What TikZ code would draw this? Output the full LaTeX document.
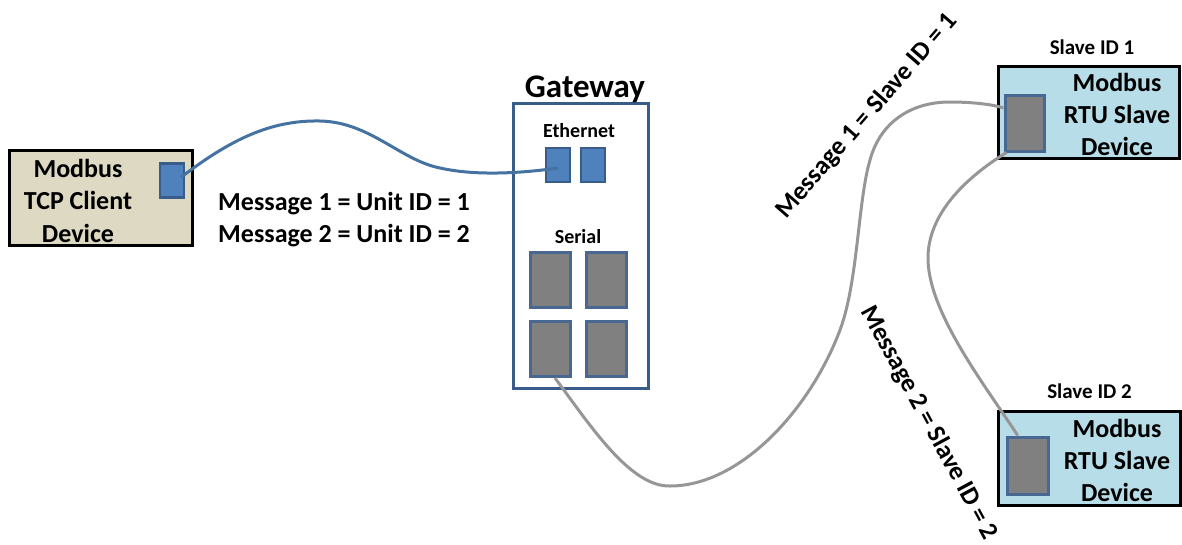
\documentclass[tikz,border=0pt]{standalone}
\usepackage{fontspec}
\setmainfont{Carlito}
\definecolor{clientfill}{RGB}{221,217,195}
\definecolor{slavefill}{RGB}{183,221,232}
\definecolor{portblue}{RGB}{79,129,189}
\definecolor{portedge}{RGB}{56,93,138}
\definecolor{serialedge}{RGB}{72,104,146}
\definecolor{portgray}{RGB}{128,128,128}
\definecolor{cableblue}{RGB}{68,114,161}
\definecolor{cablegray}{RGB}{150,150,150}

\begin{document}
\begin{tikzpicture}[x=1pt,y=-1pt,
	devbox/.style={draw=black, line width=3pt, inner sep=0pt},
	ethport/.style={draw=portedge, fill=portblue, line width=2.5pt, inner sep=0pt, minimum width=24pt, minimum height=34pt},
	serport/.style={draw=serialedge, fill=portgray, line width=3pt, inner sep=0pt},
	bigtext/.style={font=\fontsize{26}{32.5}\selectfont\bfseries, align=center, inner sep=0pt},
	smalltext/.style={font=\fontsize{20}{24}\selectfont\bfseries, inner sep=0pt},
	bluecable/.style={draw=cableblue, line width=3pt},
	graycable/.style={draw=cablegray, line width=3pt}]
	
	\useasboundingbox (0,0) rectangle (1182,544);
	
	\node[devbox, fill=clientfill, minimum width=182.6pt, minimum height=95pt] (client) at (101,198.2){};
	\node[bigtext, anchor=base] (clienttext) at (78,242.3){Modbus\\TCP Client\\Device};
	\node[ethport] (cport) at (172,180.3){};
	\node[bigtext, align=left, anchor=base west] (unitids) at (218,242.7){Message 1 = Unit ID = 1\\Message 2 = Unit ID = 2};
	
	\node[draw=portedge, line width=3pt, inner sep=0pt, minimum width=135.4pt, minimum height=285pt] (gateway) at (581,245.8){};
	\node[font=\fontsize{33}{40}\selectfont\bfseries, inner sep=0pt, anchor=base] (gwtext) at (585,97.5){Gateway};
	\node[smalltext, anchor=base] (ethtext) at (579,137){Ethernet};
	\node[ethport] (eth1) at (558,165){};
	\node[ethport] (eth2) at (593,165){};
	\node[smalltext, anchor=base] (sertext) at (578,243){Serial};
	\node[serport, minimum width=40pt, minimum height=55pt] (ser1) at (550,279.5){};
	\node[serport, minimum width=40pt, minimum height=55pt] (ser2) at (606.5,279.5){};
	\node[serport, minimum width=40pt, minimum height=55pt] (ser3) at (550,349){};
	\node[serport, minimum width=40pt, minimum height=55pt] (ser4) at (606.5,349){};
	
	\node[devbox, fill=slavefill, minimum width=180.6pt, minimum height=92.3pt] (slave1) at (1089,112.2){};
	\node[font=\fontsize{21}{25}\selectfont\bfseries, inner sep=0pt, anchor=base] (s1id) at (1092,54.3){Slave ID 1};
	\node[bigtext, anchor=base, font=\fontsize{26}{31.7}\selectfont\bfseries] (s1text) at (1117,155){Modbus\\RTU Slave\\Device};
	\node[serport, minimum width=39pt, minimum height=56pt] (s1port) at (1024.5,123){};
	
	\node[devbox, fill=slavefill, minimum width=181.7pt, minimum height=94pt] (slave2) at (1089.2,458){};
	\node[font=\fontsize{21}{25}\selectfont\bfseries, inner sep=0pt, anchor=base] (s2id) at (1089.5,398){Slave ID 2};
	\node[bigtext, anchor=base, font=\fontsize{26}{32}\selectfont\bfseries] (s2text) at (1117,501.7){Modbus\\RTU Slave\\Device};
	\node[serport, minimum width=41pt, minimum height=57pt] (s2port) at (1027.7,465.5){};
	
	\node[bigtext, rotate=49] (msgone) at (867,116){Message 1 = Slave ID = 1};
	\node[bigtext, rotate=-61.6] (msgtwo) at (929,423){Message 2 = Slave ID = 2};
	
	\draw[bluecable]([xshift=9pt,yshift=3pt]cport.center) .. controls (230,140) and (270,120) .. (320,121) .. controls (370,122) and (400,160) .. (440,168) .. controls (480,177) and (530,172) .. ([yshift=-3pt]eth1.center);
	\draw[graycable]([xshift=5pt]ser3.south) .. controls (590,425) and (630,487) .. (670,486) .. controls (740,486) and (810,410) .. (840,330) .. controls (858,282) and (858,200) .. (870,160) .. controls (880,123) and (910,102) .. (950,102) .. controls (975,102) and (995,105) .. ([yshift=15pt]s1port.west);
	\draw[graycable]([xshift=3pt]s1port.south west) .. controls (970,175) and (930,210) .. (928,255) .. controls (926,310) and (985,385) .. ([xshift=-10pt]s2port.north);
	
\end{tikzpicture}
\end{document}
